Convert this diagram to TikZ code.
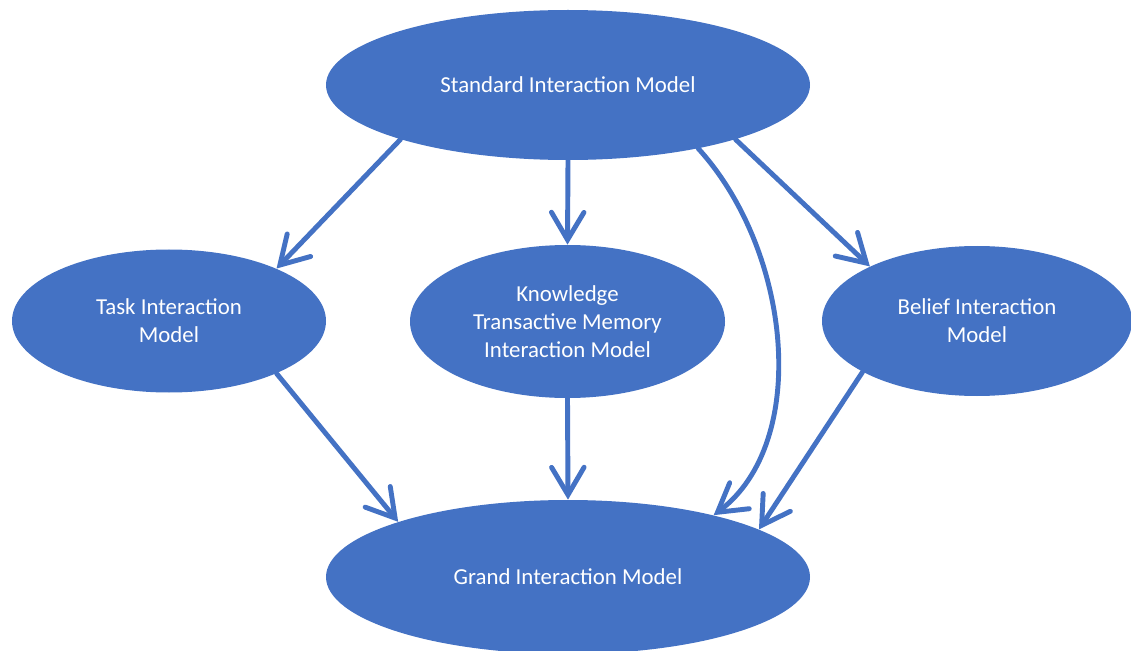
\documentclass[tikz,border=0pt]{standalone}
\usepackage{fontspec}
\setmainfont{Carlito}
\usepackage{tikz}
\usetikzlibrary{arrows.meta,positioning,shapes.geometric}
\definecolor{msblue}{HTML}{4472C4}
\tikzstyle{link} = [line width=2.8pt, draw=msblue, line cap=round, -{Straight Barb[length=5.5mm, width=6.5mm, line cap=round]}]

\begin{document}
\begin{tikzpicture}
\tikzset{%
	blob/.style = { ellipse, fill=msblue, draw=none, inner sep=0pt, text=white, align=center, font=\fontsize{13pt}{15.9pt}\selectfont }
}
\useasboundingbox (0,0) rectangle (22.62,-13.02);

\node(std) [blob, minimum width=9.68cm, minimum height=3cm] at (11.36,-1.70) {Standard Interaction Model};
\node(task) [blob, minimum width=6.28cm, minimum height=2.86cm] at (3.38,-6.42) {Task Interaction\\Model};
\node(know) [blob, minimum width=6.3cm, minimum height=3.06cm] at (11.35,-6.43) {Knowledge\\Transactive Memory\\Interaction Model};
\node(belief) [blob, minimum width=6.2cm, minimum height=3cm] at (19.54,-6.42) {Belief Interaction\\Model};
\node(grand) [blob, minimum width=9.68cm, minimum height=3.08cm] at (11.36,-11.54) {Grand Interaction Model};

\draw [link] (std.198) -- (task.26);
\draw [link] (std.south) -- (know.north);
\draw [link] (std.342) -- (belief.153);
\draw [link] (std.-26) .. controls +(1.86,-2.04) and +(1.94,1.46) .. (grand.23);
\draw [link] (task.-26) -- (grand.162);
\draw [link] (know.south) -- (grand.north);
\draw [link] (belief.204) -- (grand.14);
\end{tikzpicture}
\end{document}
